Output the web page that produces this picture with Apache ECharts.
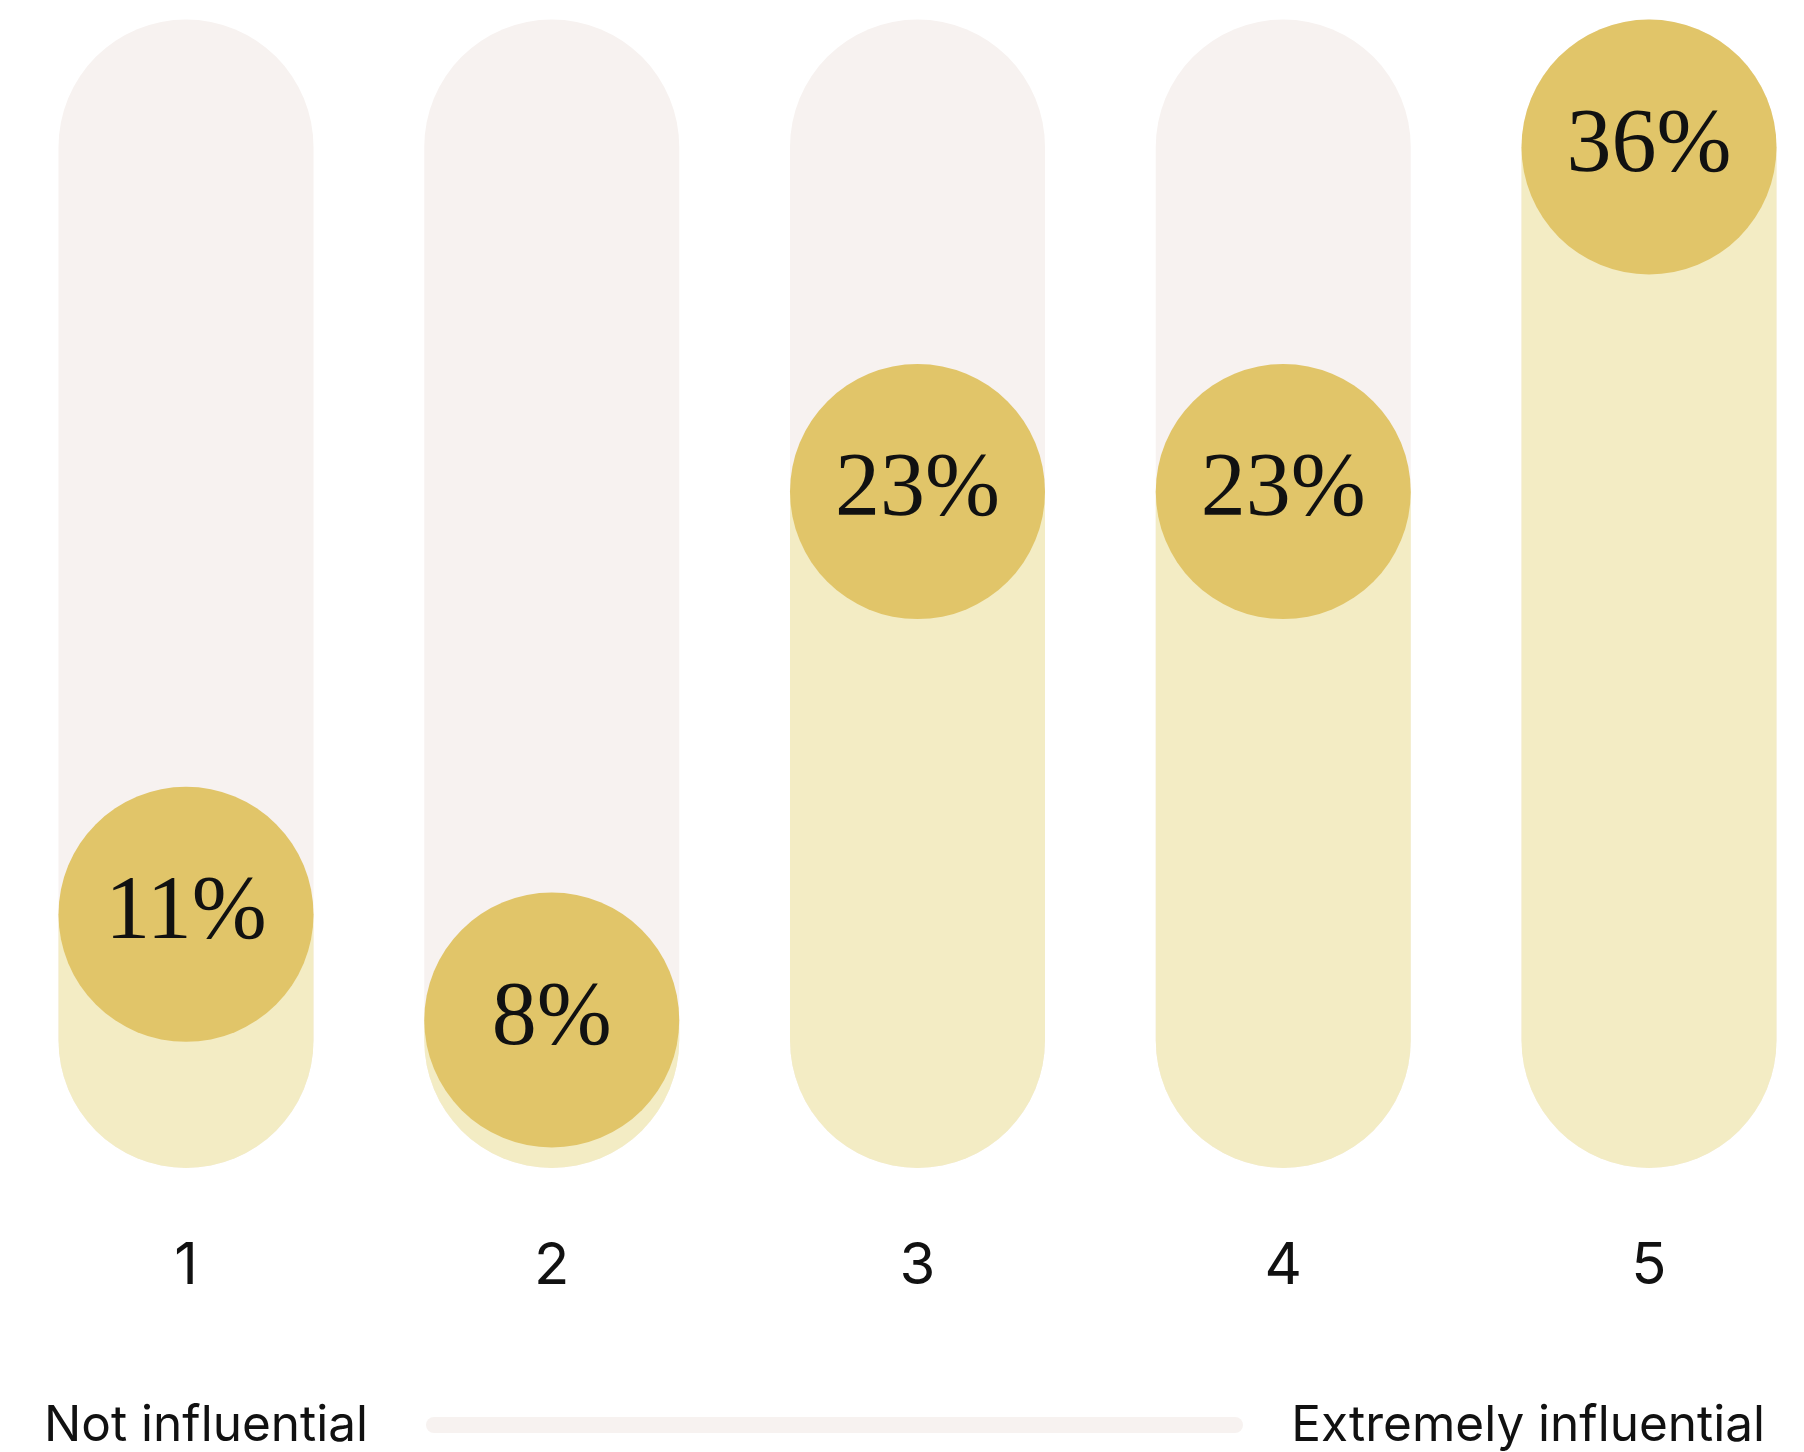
<!DOCTYPE html>
<html>
<head>
<meta charset="utf-8">
<script src="https://cdn.jsdelivr.net/npm/echarts@6/dist/echarts.min.js"></script>
<style>
  html, body { margin: 0; padding: 0; background: #fff; }
  #chart { width: 1804px; height: 1452px; }
</style>
</head>
<body>
<div id="chart"></div>
<script>
// rating scale 1..5 and share of answers (%)
const categories = ['1', '2', '3', '4', '5']
const shares = [11, 8, 23, 23, 36]
const scaleLeft = 'Not influential'
const scaleRight = 'Extremely influential'

const trackColor = '#f7f2f0'
const fillColor = '#f3ecc4'
const bubbleColor = '#e1c569'
const barWidth = 255

const myChart = echarts.init(document.getElementById('chart'))

// pill bar: track, fill up to the value, bubble with the label on top
function renderPill(params, api) {
  const cs = params.coordSys
  const r = barWidth / 2
  const top = cs.y
  const bottom = cs.y + cs.height
  const pt = api.coord([api.value(0), api.value(1)])
  const x = pt[0]
  // keep the bubble inside the track
  const cy = Math.min(Math.max(pt[1], top + r), bottom - r)
  return {
    type: 'group',
    children: [
      {
        type: 'rect',
        shape: {x: x - r, y: top, width: barWidth, height: bottom - top, r: r},
        style: {fill: trackColor}
      },
      {
        type: 'rect',
        shape: {x: x - r, y: cy, width: barWidth, height: bottom - cy, r: [0, 0, r, r]},
        style: {fill: fillColor}
      },
      {
        type: 'circle',
        shape: {cx: x, cy: cy, r: r},
        style: {fill: bubbleColor}
      },
      {
        type: 'text',
        style: {
          text: api.value(1) + '%',
          x: x,
          y: cy,
          align: 'center',
          verticalAlign: 'middle',
          fontSize: 90,
          fontFamily: 'Liberation Serif',
          fill: '#111'
        }
      }
    ]
  }
}

const option = {
  animation: false,
  grid: {
    left: 186,
    right: 155,
    top: 19.5,
    bottom: 284,
    outerBoundsMode: 'none'
  },
  xAxis: {
    type: 'category',
    data: categories,
    boundaryGap: false,
    axisLine: {show: false},
    axisTick: {show: false},
    splitLine: {show: false},
    axisLabel: {
      margin: 70,
      fontSize: 58,
      fontFamily: 'Inter',
      color: '#111'
    }
  },
  yAxis: {
    type: 'value',
    min: 3.8,
    max: 36.4,
    show: false
  },
  graphic: [
    {
      type: 'text',
      left: 44,
      top: 1401,
      style: {
        text: scaleLeft,
        fontSize: 49.5,
        fontFamily: 'Inter',
        fill: '#111'
      }
    },
    {
      type: 'rect',
      shape: {x: 426, y: 1417, width: 817, height: 16, r: 8},
      style: {fill: trackColor}
    },
    {
      type: 'text',
      right: 39,
      top: 1401,
      style: {
        text: scaleRight,
        fontSize: 49.5,
        fontFamily: 'Inter',
        fill: '#111'
      }
    }
  ],
  series: [
    {
      type: 'custom',
      renderItem: renderPill,
      data: categories.map((c, i) => [c, shares[i]])
    }
  ]
}

myChart.setOption(option)
</script>
</body>
</html>
